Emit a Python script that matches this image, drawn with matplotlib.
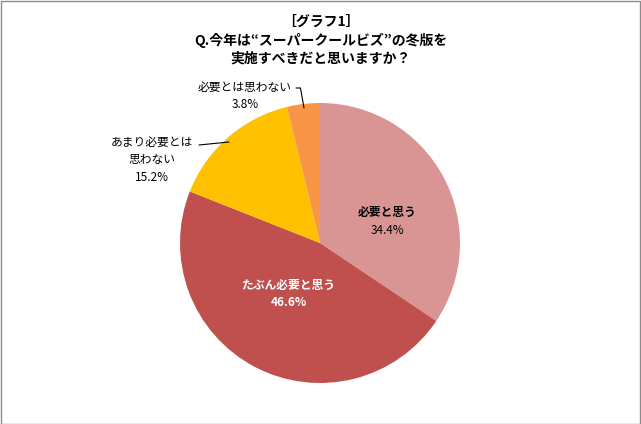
import matplotlib
matplotlib.use("Agg")
import matplotlib.pyplot as plt
from matplotlib.patches import Rectangle

plt.rcParams['font.family'] = ['Noto Sans CJK JP', 'DejaVu Sans']

labels = ["必要と思う", "たぶん必要と思う", "あまり必要とは\n思わない", "必要とは思わない"]
values = [34.4, 46.6, 15.2, 3.8]
colors = ["#D99594", "#C0504D", "#FFC000", "#F79646"]
title = "［グラフ1］\nQ.今年は“スーパークールビズ”の冬版を\n実施すべきだと思いますか？"

W, H = 641, 424
fig = plt.figure(figsize=(W / 100, H / 100), dpi=100)
fig.patch.set_facecolor("white")
fig.add_artist(Rectangle((0.5 / W, 0.5 / H), 1 - 1.5 / W, 1 - 1.5 / H, transform=fig.transFigure,
                         fill=False, edgecolor="#8c8c8c", linewidth=1))

cx, cy, r = 320, 243, 140
ax = fig.add_axes([(cx - r) / W, (H - cy - r) / H, 2 * r / W, 2 * r / H])
ax.pie(values, colors=colors, startangle=90, counterclock=False, radius=1,
       wedgeprops=dict(linewidth=0))
ax.set_xlim(-1, 1)
ax.set_ylim(-1, 1)
ax.set_aspect("auto")
ax.axis("off")

fig.text(0.5, 1 - 40 / H, title, ha="center", va="center", fontsize=10, fontweight="bold",
         linespacing=1.32)

fs = 8.5


def pct(v):
    return f"{v:.1f}%"


def P(px, py):
    return ((px - cx) / r, (cy - py) / r)


# inside labels
ax.text(*P(387, 212), labels[0], ha="center", va="center", fontsize=fs, fontweight="bold",
        color="black")
ax.text(*P(387, 230), pct(values[0]), ha="center", va="center", fontsize=fs, color="black")
ax.text(*P(289, 285), labels[1], ha="center", va="center", fontsize=fs, fontweight="bold",
        color="white")
ax.text(*P(289, 302), pct(values[1]), ha="center", va="center", fontsize=fs, fontweight="bold",
        color="white")

# outside labels
ax.text(*P(152, 160), f"{labels[2]}\n{pct(values[2])}", ha="center", va="center",
        fontsize=fs, linespacing=1.45)
ax.text(*P(245, 96), f"{labels[3]}\n{pct(values[3])}", ha="center", va="center",
        fontsize=fs, linespacing=1.45)

# leader lines
ax.annotate("", xy=P(229, 142), xytext=P(199, 145), annotation_clip=False,
            arrowprops=dict(arrowstyle="-", color="black", lw=0.8, shrinkA=0, shrinkB=0))
ax.annotate("", xy=P(304, 108), xytext=P(296, 88), annotation_clip=False,
            arrowprops=dict(arrowstyle="-", color="black", lw=0.8,
                            connectionstyle="angle,angleA=0,angleB=-80,rad=0",
                            shrinkA=0, shrinkB=0))

fig.savefig("out.png", dpi=100)
